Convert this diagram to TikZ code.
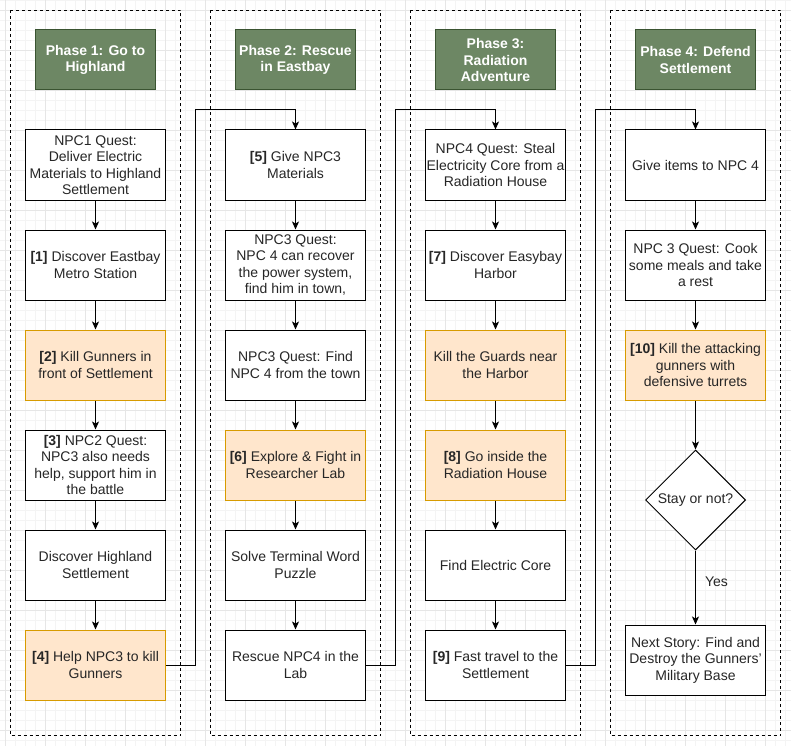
\documentclass[tikz,border=0pt]{standalone}
\usepackage{fontspec}
\setmainfont{Liberation Sans}
\usetikzlibrary{arrows.meta,shapes.geometric}
\definecolor{phasegreen}{HTML}{6D8764}
\definecolor{phaseline}{HTML}{3A5431}
\definecolor{fightfill}{HTML}{FFE6CC}
\definecolor{fightline}{HTML}{D79B00}
\definecolor{gridminor}{HTML}{F4F4F4}
\definecolor{gridmajor}{HTML}{E6E6E6}

\begin{document}
\begin{tikzpicture}[x=1pt,y=-1pt,
 every node/.style={font=\fontsize{14}{16.5}\selectfont, text=black!85, align=center},
 phase/.style={draw=phaseline, fill=phasegreen, line width=1pt, minimum width=120pt, minimum height=60pt, inner sep=0pt, text=white, font=\bfseries\fontsize{14}{16.5}\selectfont},
 task/.style={draw, fill=white, line width=1pt, minimum width=140pt, minimum height=70pt, inner sep=0pt},
 fight/.style={task, draw=fightline, fill=fightfill},
 choice/.style={diamond, draw, fill=white, line width=1pt, minimum width=100pt, minimum height=100pt, inner sep=0pt},
 lane/.style={draw, line width=0.8pt, dash pattern=on 3pt off 3pt},
 flow/.style={-{Stealth[length=8pt,width=7pt,inset=2pt]}, line width=1pt}]
 \useasboundingbox (0,0) rectangle (791,746);
 \fill[white] (0,0) rectangle (791,746);

 \foreach \gx in {0,...,78} \draw[gridminor, line width=0.6pt] (5.7+10*\gx,0) -- (5.7+10*\gx,746);
 \foreach \gy in {0,...,74} \draw[gridminor, line width=0.6pt] (0,10*\gy) -- (791,10*\gy);
 \foreach \gx in {0,...,19} \draw[gridmajor, line width=0.6pt] (5.7+40*\gx,0) -- (5.7+40*\gx,746);
 \foreach \gy in {0,...,18} \draw[gridmajor, line width=0.6pt] (0,10+40*\gy) -- (791,10+40*\gy);

 \foreach \lx in {10.5,210.5,410.5,610.5} \draw[lane] (\lx,10.5) rectangle (\lx+170,735.5);

 \node[phase] (p1) at (95.5,60) {Phase 1: Go to\\Highland};
 \node[phase] (p2) at (295.5,60) {Phase 2: Rescue\\in Eastbay};
 \node[phase] (p3) at (495.5,60) {Phase 3:\\Radiation\\Adventure};
 \node[phase] (p4) at (695.5,60) {Phase 4: Defend\\Settlement};

 \node[task] (quest1) at (95.5,165) {NPC1 Quest:\\Deliver Electric\\Materials to Highland\\Settlement};
 \node[task] (metro) at (95.5,265) {\textbf{[1]} Discover Eastbay\\Metro Station};
 \node[fight] (gunners) at (95.5,365) {\textbf{[2]} Kill Gunners in\\front of Settlement};
 \node[task] (quest2) at (95.5,465) {\textbf{[3]} NPC2 Quest:\\NPC3 also needs\\help, support him in\\the battle};
 \node[task] (highland) at (95.5,565) {Discover Highland\\Settlement};
 \node[fight] (help) at (95.5,665) {\textbf{[4]} Help NPC3 to kill\\Gunners};

 \node[task] (give) at (295.5,165) {\textbf{[5]} Give NPC3\\Materials};
 \node[task] (quest3) at (295.5,265) {NPC3 Quest:\\NPC 4 can recover\\the power system,\\find him in town,};
 \node[task] (find) at (295.5,365) {NPC3 Quest: Find\\NPC 4 from the town};
 \node[fight] (lab) at (295.5,465) {\textbf{[6]} Explore \& Fight in\\Researcher Lab};
 \node[task] (puzzle) at (295.5,565) {Solve Terminal Word\\Puzzle};
 \node[task] (rescue) at (295.5,665) {Rescue NPC4 in the\\Lab};

 \node[task] (quest4) at (495.5,165) {NPC4 Quest: Steal\\Electricity Core from a\\Radiation House};
 \node[task] (harbor) at (495.5,265) {\textbf{[7]} Discover Easybay\\Harbor};
 \node[fight] (guards) at (495.5,365) {Kill the Guards near\\the Harbor};
 \node[fight] (house) at (495.5,465) {\textbf{[8]} Go inside the\\Radiation House};
 \node[task] (core) at (495.5,565) {Find Electric Core};
 \node[task] (travel) at (495.5,665) {\textbf{[9]} Fast travel to the\\Settlement};

 \node[task] (items) at (695.5,165) {Give items to NPC 4};
 \node[task] (cook) at (695.5,265) {NPC 3 Quest: Cook\\some meals and take\\a rest};
 \node[fight] (turrets) at (695.5,365) {\textbf{[10]} Kill the attacking\\gunners with\\defensive turrets};
 \node[choice] (stay) at (695.5,500) {Stay or not?};
 \node[task] (next) at (695.5,660) {Next Story: Find and\\Destroy the Gunners'\\Military Base};

 \foreach \a/\b in {quest1/metro, metro/gunners, gunners/quest2, quest2/highland, highland/help,
   give/quest3, quest3/find, find/lab, lab/puzzle, puzzle/rescue,
   quest4/harbor, harbor/guards, guards/house, house/core, core/travel,
   items/cook, cook/turrets, turrets/stay}
   \draw[flow] (\a) -- (\b);
 \draw[flow] (stay) -- node[pos=0.42, right, inner sep=0pt, xshift=9pt] {Yes} (next);

 \draw[flow] (help.east) -- ++(29.5,0) |- ([yshift=20pt]give.north) -- (give.north);
 \draw[flow] (rescue.east) -- ++(29.5,0) |- ([yshift=20pt]quest4.north) -- (quest4.north);
 \draw[flow] (travel.east) -- ++(29.5,0) |- ([yshift=20pt]items.north) -- (items.north);
\end{tikzpicture}
\end{document}
